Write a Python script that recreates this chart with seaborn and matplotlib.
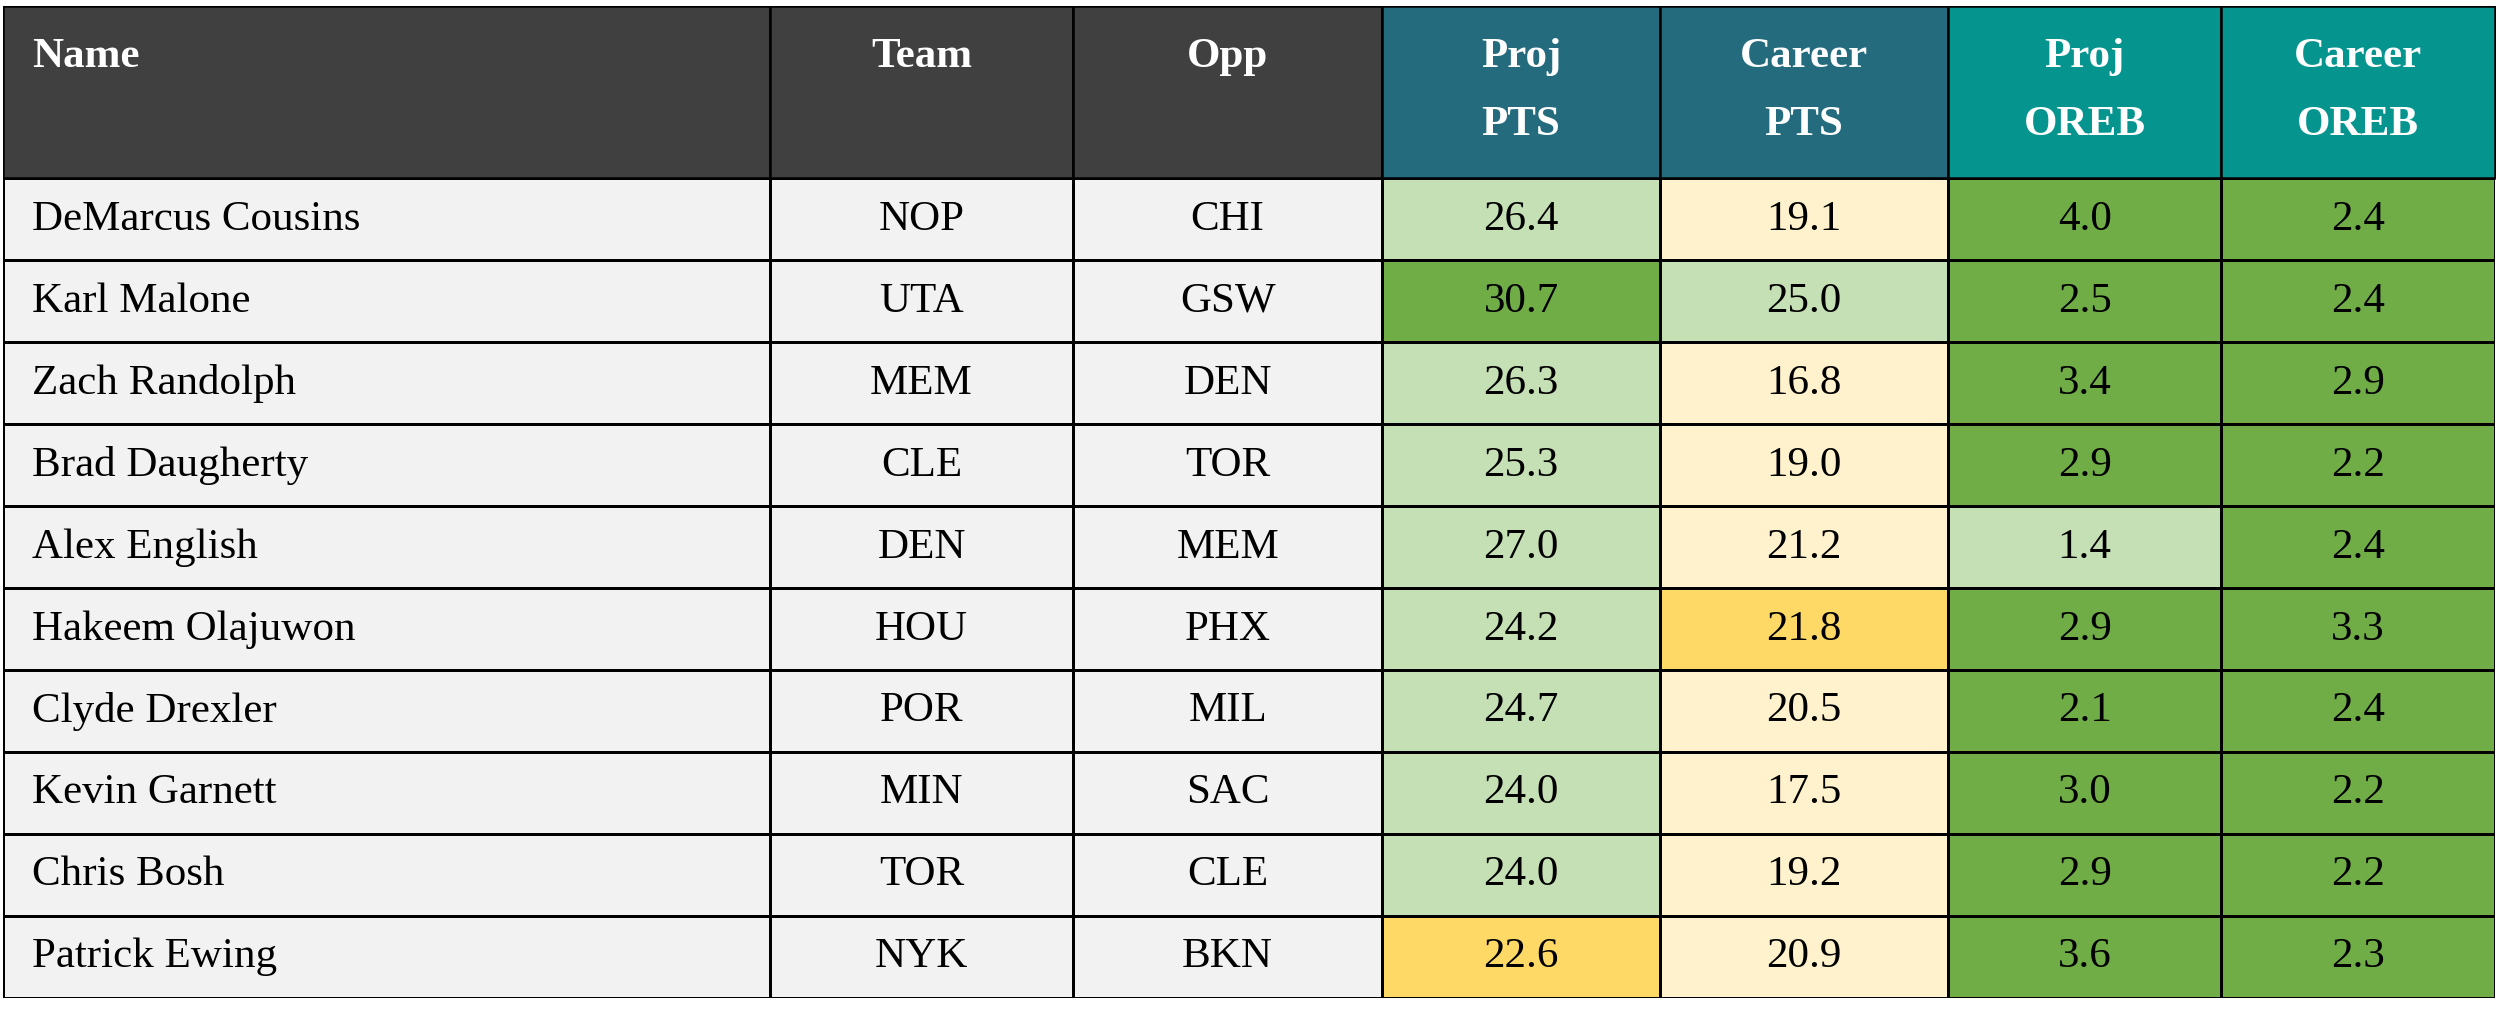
import numpy as np
import matplotlib
matplotlib.use('Agg')
import matplotlib.pyplot as plt
from matplotlib.colors import ListedColormap
import seaborn as sns

names = ["DeMarcus Cousins", "Karl Malone", "Zach Randolph", "Brad Daugherty", "Alex English",
         "Hakeem Olajuwon", "Clyde Drexler", "Kevin Garnett", "Chris Bosh", "Patrick Ewing"]
teams = ["NOP", "UTA", "MEM", "CLE", "DEN", "HOU", "POR", "MIN", "TOR", "NYK"]
opps = ["CHI", "GSW", "DEN", "TOR", "MEM", "PHX", "MIL", "SAC", "CLE", "BKN"]
proj_pts = [26.4, 30.7, 26.3, 25.3, 27.0, 24.2, 24.7, 24.0, 24.0, 22.6]
career_pts = [19.1, 25.0, 16.8, 19.0, 21.2, 21.8, 20.5, 17.5, 19.2, 20.9]
proj_oreb = [4.0, 2.5, 3.4, 2.9, 1.4, 2.9, 2.1, 3.0, 2.9, 3.6]
career_oreb = [2.4, 2.4, 2.9, 2.2, 2.4, 3.3, 2.4, 2.2, 2.2, 2.3]
headers = ["Name", "Team", "Opp", "Proj\nPTS", "Career\nPTS", "Proj\nOREB", "Career\nOREB"]

# colour classes per cell: 0 name grey, 1 light green, 2 dark green, 3 light yellow, 4 yellow
proj_pts_cls = [1, 2, 1, 1, 1, 1, 1, 1, 1, 4]
career_pts_cls = [3, 1, 3, 3, 3, 4, 3, 3, 3, 3]
proj_oreb_cls = [2, 2, 2, 2, 1, 2, 2, 2, 2, 2]
career_oreb_cls = [2] * 10

cell_colors = ["#f2f2f2", "#c5e0b4", "#70ad47", "#fff2cc", "#ffd966"]
header_colors = ["#404040", "#404040", "#404040", "#236b7d", "#236b7d", "#06948f", "#06948f"]
col_widths = [481, 190, 194, 174, 181, 171, 172]
header_h = 2.1

sns.set_theme(style="white")
plt.rcParams['font.family'] = ['Liberation Serif', 'DejaVu Serif']

fig = plt.figure(figsize=(25, 10.3), dpi=100)
ax = fig.add_axes([2 / 1568, 20 / 646, 1563 / 1568, 622 / 646])

xedges = np.concatenate([[0], np.cumsum(col_widths)])
yedges = np.concatenate([[0], header_h + np.arange(len(names) + 1)])

cls = np.column_stack([np.zeros(10), np.zeros(10), np.zeros(10),
                       proj_pts_cls, career_pts_cls, proj_oreb_cls, career_oreb_cls])
body = np.vstack([np.full((1, 7), 5), cls])
cmap = ListedColormap(cell_colors + ["#404040"])
ax.pcolormesh(xedges, yedges, body, cmap=cmap, vmin=-0.5, vmax=5.5,
              edgecolors="black", linewidth=1.8)
# header cells with their own colours
for j, c in enumerate(header_colors):
    ax.fill_between([xedges[j], xedges[j + 1]], 0, header_h, color=c, edgecolor="black", linewidth=1.8)

fs = 31
for j, h in enumerate(headers):
    if j == 0:
        ax.text(18, 0.62, h, color="white", fontsize=fs, fontweight="bold", va="center", ha="left")
    elif "\n" in h:
        l1, l2 = h.split("\n")
        xc = (xedges[j] + xedges[j + 1]) / 2
        ax.text(xc, 0.62, l1, color="white", fontsize=fs, fontweight="bold", va="center", ha="center")
        ax.text(xc, 1.45, l2, color="white", fontsize=fs, fontweight="bold", va="center", ha="center")
    else:
        xc = (xedges[j] + xedges[j + 1]) / 2
        ax.text(xc, 0.62, h, color="white", fontsize=fs, fontweight="bold", va="center", ha="center")

cols = [names, teams, opps,
        [f"{v:.1f}" for v in proj_pts], [f"{v:.1f}" for v in career_pts],
        [f"{v:.1f}" for v in proj_oreb], [f"{v:.1f}" for v in career_oreb]]
for j, col in enumerate(cols):
    for i, t in enumerate(col):
        y = header_h + i + 0.5
        if j == 0:
            ax.text(18, y, t, fontsize=fs, va="center", ha="left", color="black")
        else:
            ax.text((xedges[j] + xedges[j + 1]) / 2, y, t, fontsize=fs, va="center", ha="center", color="black")

ax.set_xlim(0, xedges[-1])
ax.set_ylim(yedges[-1], 0)
ax.axis("off")
fig.savefig("out.png", dpi=100)
